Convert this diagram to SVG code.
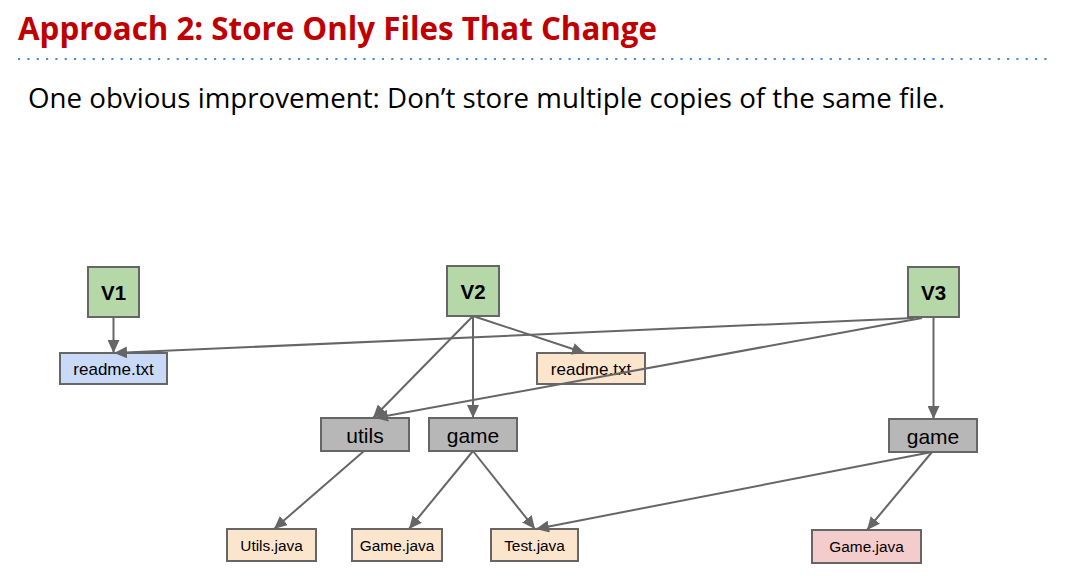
<svg xmlns="http://www.w3.org/2000/svg" width="1078" height="586" viewBox="0 0 1078 586">
<defs>
<marker id="arr" markerUnits="userSpaceOnUse" markerWidth="14" markerHeight="12" refX="13" refY="6" orient="auto">
<path d="M0,0 L13,6 L0,12 Z" fill="#666666"/>
</marker>
<style>
.title{font-family:"Open Sans","Liberation Sans",sans-serif;font-weight:700;font-size:32px;fill:#c00000}
.sub{font-family:"Open Sans","Liberation Sans",sans-serif;font-size:28px;fill:#000}
.box{stroke:#666666;stroke-width:2}
.ver{fill:#b6d7a8}
.dir{fill:#b7b7b7}
.blue{fill:#c9daf8}
.orange{fill:#fce5cd}
.pink{fill:#f4cccc}
.vt{font-family:"Liberation Sans",Arial,sans-serif;font-weight:700;font-size:20.5px;text-anchor:middle;fill:#000}
.dt{font-family:"Liberation Sans",Arial,sans-serif;font-size:21px;text-anchor:middle;fill:#000}
.rt{font-family:"Liberation Sans",Arial,sans-serif;font-size:17px;text-anchor:middle;fill:#000}
.ft{font-family:"Liberation Sans",Arial,sans-serif;font-size:15.4px;text-anchor:middle;fill:#000}
.edge{stroke:#666666;stroke-width:2;fill:none;marker-end:url(#arr)}
</style>
</defs>
<rect width="1078" height="586" fill="#ffffff"/>
<text class="title" x="18" y="40" textLength="639" lengthAdjust="spacingAndGlyphs">Approach 2: Store Only Files That Change</text>
<line x1="18" y1="59" x2="1052" y2="59" stroke="#4a8fd4" stroke-width="2.2" stroke-dasharray="2.2 7.13"/>
<text class="sub" x="28" y="108" textLength="917" lengthAdjust="spacingAndGlyphs">One obvious improvement: Don’t store multiple copies of the same file.</text>

<g id="v1"><rect class="box ver" x="88" y="267" width="51" height="50"/><text class="vt" x="113.5" y="300">V1</text></g>
<g id="v2"><rect class="box ver" x="447" y="266" width="52" height="50"/><text class="vt" x="473" y="299">V2</text></g>
<g id="v3"><rect class="box ver" x="908" y="267" width="51" height="50"/><text class="vt" x="933.5" y="300">V3</text></g>
<g id="readme1"><rect class="box blue" x="60" y="353" width="107" height="31"/><text class="rt" x="113.5" y="375">readme.txt</text></g>
<g id="readme2"><rect class="box orange" x="537" y="353" width="108" height="31"/><text class="rt" x="591" y="375">readme.txt</text></g>
<g id="utils"><rect class="box dir" x="321" y="418" width="88" height="33"/><text class="dt" x="365" y="443">utils</text></g>
<g id="game2"><rect class="box dir" x="429" y="418" width="88" height="33"/><text class="dt" x="473" y="443">game</text></g>
<g id="game3"><rect class="box dir" x="889" y="419" width="88" height="33"/><text class="dt" x="933" y="444">game</text></g>
<g id="utilsjava"><rect class="box orange" x="227" y="529" width="89" height="32"/><text class="ft" x="271.5" y="551">Utils.java</text></g>
<g id="gamejava2"><rect class="box orange" x="352" y="529" width="90" height="32"/><text class="ft" x="397" y="551">Game.java</text></g>
<g id="testjava"><rect class="box orange" x="491" y="529" width="87" height="32"/><text class="ft" x="534.5" y="551">Test.java</text></g>
<g id="gamejava3"><rect class="box pink" x="812" y="530" width="109" height="33"/><text class="ft" x="866.5" y="552">Game.java</text></g>

<g id="connectors">
<line class="edge" x1="113.5" y1="317" x2="113.5" y2="353"/>
<line class="edge" x1="914" y1="318" x2="114" y2="353"/>
<line class="edge" x1="473" y1="316" x2="373" y2="418"/>
<line class="edge" x1="473" y1="316" x2="473" y2="418"/>
<line class="edge" x1="473" y1="316" x2="585" y2="353"/>
<line class="edge" x1="922" y1="318" x2="375" y2="418"/>
<line class="edge" x1="933.5" y1="317" x2="933.5" y2="419"/>
<line class="edge" x1="364" y1="451" x2="274" y2="529"/>
<line class="edge" x1="473" y1="451" x2="409" y2="529"/>
<line class="edge" x1="473" y1="451" x2="535" y2="529"/>
<line class="edge" x1="932" y1="452" x2="536" y2="529"/>
<line class="edge" x1="932" y1="452" x2="867" y2="530"/>
</g>
</svg>
